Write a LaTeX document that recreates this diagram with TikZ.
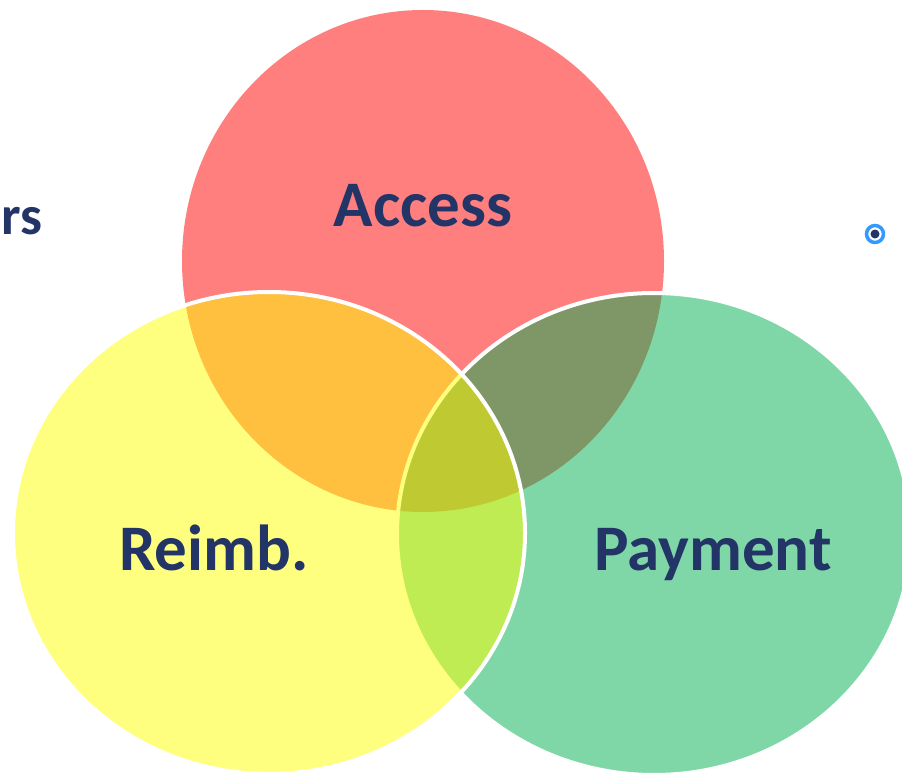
\documentclass[tikz,border=0pt]{standalone}
\usepackage{fontspec}
\setmainfont{Carlito}
\definecolor{navy}{RGB}{35,52,102}
\definecolor{cred}{RGB}{255,0,0}
\definecolor{cyel}{RGB}{255,255,0}
\definecolor{cgrn}{RGB}{0,176,80}
\definecolor{ring}{RGB}{51,153,255}
\tikzset{
  setfill/.style={fill=#1, fill opacity=0.5},
  setline/.style={draw=white, draw opacity=1, line width=4pt},
  biglabel/.style={text=navy, font=\fontsize{65}{78}\selectfont\bfseries, anchor=base, inner sep=0pt},
}
\begin{document}
\begin{tikzpicture}[x=1pt,y=-1pt]
\useasboundingbox (0,0) rectangle (902,775);
\clip (0,0) rectangle (902,775);
% Access (red), bottom layer
\path[setfill=cred] (423,261) ellipse [x radius=241, y radius=251];
% Payment (green), middle layer
\path[setfill=cgrn, setline] (654,534) ellipse [x radius=257, y radius=241];
% Reimb. (yellow), top layer
\path[setfill=cyel, setline] (269,533) ellipse [x radius=256, y radius=241];
% labels
\node[biglabel] (access) at (423,227) {Access};
\node[biglabel] (reimb) at (214,570) {Reimb.};
\node[biglabel] (payment) at (713,570) {Payment};
\node[text=navy, font=\fontsize{55}{66}\selectfont\bfseries, anchor=base east, inner sep=0pt] (rs) at (43,235) {rs};
% small radio icon
\node[circle, draw=ring, line width=3.5pt, fill=white, minimum size=17pt, inner sep=0pt] (icon) at (875,234) {};
\fill[navy] (icon.center) circle [radius=4.5];
\end{tikzpicture}
\end{document}
